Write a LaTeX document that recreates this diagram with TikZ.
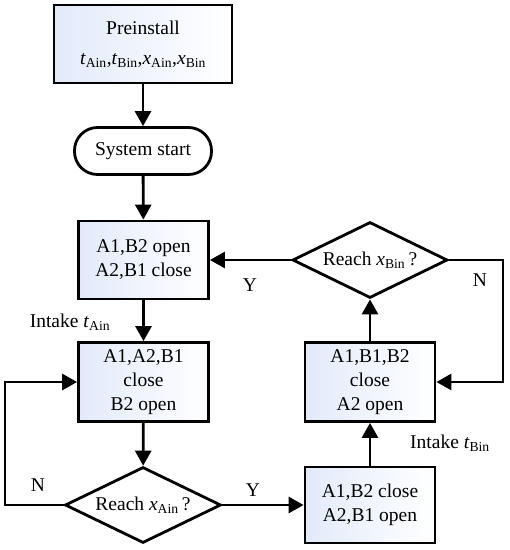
\documentclass[tikz,border=0pt]{standalone}
\usepackage{fontspec}
\setmainfont{Liberation Serif}
\usetikzlibrary{shapes.geometric,arrows.meta}

\newcommand{\qsym}[2]{\textit{#1}\textsubscript{#2}}

\tikzset{
    wire/.style={line width=2.8pt, -{Triangle[length=15pt,width=16pt]}},
    stepbox/.style={shape=rectangle, draw, line width=2.8pt, inner sep=0,
        align=center, left color={rgb,255:red,226;green,234;blue,250}, right color=white},
    termbox/.style={shape=rectangle, draw, line width=2.8pt, inner sep=0,
        rounded corners=23pt, fill=white},
    askbox/.style={shape=diamond, draw, line width=2.8pt, inner sep=0, aspect=2,
        fill=white, minimum width=156pt, minimum height=76pt}
}

\begin{document}
\begin{tikzpicture}[x=1pt, y=-1pt, font=\fontsize{19.5}{24}\selectfont]
        \useasboundingbox (0, 0) rectangle (510, 550);
        % Nodes:
        \node[stepbox, minimum width=178pt, minimum height=78pt](Pre) at (143, 44){Preinstall\\[6pt]\qsym{t}{Ain},\qsym{t}{Bin},\qsym{x}{Ain},\qsym{x}{Bin}};
        \node[termbox, minimum width=137pt, minimum height=47pt](Start) at (143, 151){System start};
        \node[stepbox, minimum width=130pt, minimum height=78pt](OpenA) at (143.5, 260){A1,B2 open\\A2,B1 close};
        \node[stepbox, minimum width=130pt, minimum height=79pt](FillA) at (143.5, 382){A1,A2,B1\\close\\B2 open};
        \node[askbox](AskA) at (143, 505){Reach \qsym{x}{Ain}\,?};
        \node[stepbox, minimum width=130pt, minimum height=76pt](OpenB) at (370, 505){A1,B2 close\\A2,B1 open};
        \node[stepbox, minimum width=130pt, minimum height=79pt](FillB) at (370, 382){A1,B1,B2\\close\\A2 open};
        \node[askbox, minimum width=155pt](AskB) at (370, 260){Reach \qsym{x}{Bin}\,?};
        \coordinate (LoopA) at (5, 505);
        \coordinate (LoopB) at (503, 260);
        % Paths and wires:
        \draw[wire] (Pre) -- (Start);
        \draw[wire] (Start) -- (OpenA);
        \draw[wire] (OpenA) -- (FillA);
        \draw[wire] (FillA) -- (AskA);
        \draw[wire] (AskA.west) -- (LoopA) |- (FillA.west);
        \draw[wire] (AskA.east) -- (OpenB.west);
        \draw[wire] (OpenB) -- (FillB);
        \draw[wire] (FillB) -- (AskB);
        \draw[wire] (AskB.west) -- (OpenA.east);
        \draw[wire] (AskB.east) -- (LoopB) |- (FillB.east);
        % Labels:
        \node(IntakeA) at (70, 322){Intake \qsym{t}{Ain}};
        \node(IntakeB) at (450, 443){Intake \qsym{t}{Bin}};
        \node(NoA) at (38, 485){N};
        \node(YesA) at (253, 490){Y};
        \node(YesB) at (250, 285){Y};
        \node(NoB) at (480, 280){N};
    \end{tikzpicture}
\end{document}
